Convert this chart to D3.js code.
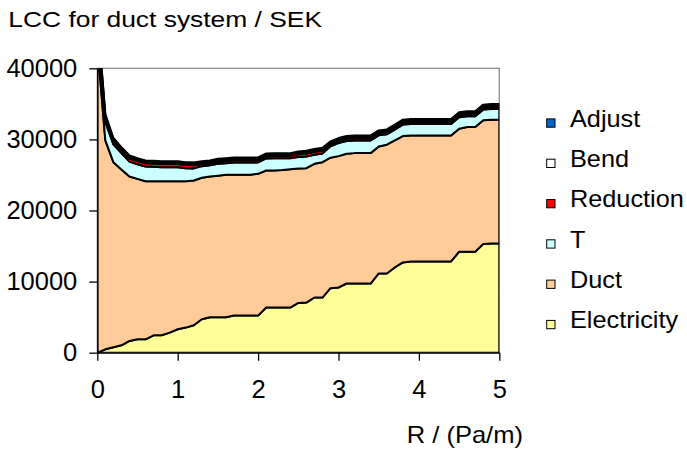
<!DOCTYPE html>
<html>
<head>
<meta charset="utf-8">
<script src="https://cdn.jsdelivr.net/npm/d3@7"></script>
<style>
body { margin: 0; background: #fff; }
text { font-family: "Liberation Sans", Arial, sans-serif; fill: #000; }
</style>
</head>
<body>
<div id="chart"></div>
<script>
// pressure drop R (Pa/m)
var rValues = [0, 0.1, 0.2, 0.3, 0.4, 0.5, 0.6, 0.7, 0.8, 0.9,
    1, 1.1, 1.2, 1.3, 1.4, 1.5, 1.6, 1.7, 1.8, 1.9,
    2, 2.1, 2.2, 2.3, 2.4, 2.5, 2.6, 2.7, 2.8, 2.9,
    3, 3.1, 3.2, 3.3, 3.4, 3.5, 3.6, 3.7, 3.8, 3.9,
    4, 4.1, 4.2, 4.3, 4.4, 4.5, 4.6, 4.7, 4.8, 4.9, 5];

// LCC parts, SEK
var electricity = [0, 475, 760, 1040, 1650, 1880, 1880, 2450, 2450, 2820,
    3300, 3530, 3860, 4710, 4990, 4990, 4990, 5220, 5220, 5220,
    5220, 6350, 6350, 6350, 6350, 7000, 7050, 7760, 7760, 9080,
    9170, 9730, 9730, 9730, 9730, 11140, 11140, 11990, 12700, 12830,
    12830, 12830, 12830, 12830, 12830, 14200, 14200, 14200, 15290, 15350, 15350];
var duct = [43500, 29390, 26040, 24730, 23130, 22570, 22240, 21670, 21670, 21300,
    20820, 20590, 20360, 19890, 19790, 19910, 20030, 19800, 19800, 19800,
    19940, 19280, 19280, 19350, 19460, 18900, 18900, 18810, 19040, 18340,
    18480, 18250, 18340, 18340, 18340, 17870, 18110, 17870, 17770, 17730,
    17730, 17730, 17730, 17730, 17730, 17310, 17540, 17540, 17390, 17430, 17430];
var tee = [2600, 2600, 2500, 2300, 2100, 2060, 2070, 2030, 1970, 1970,
    1970, 1830, 1700, 1640, 1570, 1670, 1640, 1740, 1740, 1740,
    1600, 1690, 1720, 1650, 1540, 1610, 1650, 1270, 1230, 1600,
    1840, 1790, 1790, 1790, 1790, 1560, 1460, 1510, 1610, 1600,
    1600, 1600, 1600, 1600, 1600, 1600, 1510, 1510, 1510, 1500, 1500];
var reduction = [700, 500, 450, 450, 450, 450, 450, 450, 450, 450,
    450, 450, 450, 300, 300, 300, 300, 300, 300, 300,
    300, 300, 300, 300, 300, 400, 400, 400, 400, 300,
    300, 300, 300, 300, 300, 300, 300, 300, 300, 300,
    300, 300, 300, 300, 300, 300, 300, 300, 300, 300, 300];
var bend = [600, 400, 300, 250, 250, 250, 250, 250, 250, 250,
    250, 250, 250, 250, 250, 250, 250, 250, 250, 250,
    250, 250, 250, 250, 250, 250, 250, 250, 250, 250,
    250, 250, 250, 250, 250, 250, 250, 250, 250, 250,
    250, 250, 250, 250, 250, 250, 250, 250, 250, 250, 250];
var adjust = [300, 200, 150, 150, 150, 150, 150, 150, 150, 150,
    150, 150, 150, 150, 150, 150, 150, 150, 150, 150,
    150, 150, 150, 150, 150, 150, 150, 150, 150, 150,
    150, 150, 150, 150, 150, 150, 150, 150, 150, 150,
    150, 150, 150, 150, 150, 150, 150, 150, 150, 150, 150];

var seriesNames = ['Electricity', 'Duct', 'T', 'Reduction', 'Bend', 'Adjust'];
var seriesColors = ['#ffff99', '#ffcc99', '#ccffff', '#ff0000', '#ffffff', '#0066cc'];
var yTicks = [0, 10000, 20000, 30000, 40000];
var xTicks = [0, 1, 2, 3, 4, 5];

var width = 687, height = 449;
var plotLeft = 97.3, plotRight = 499.3, plotTop = 68.3, plotBottom = 352.7;

var svg = d3.select('#chart')
    .append('svg')
    .attr('width', width)
    .attr('height', height);

var xScale = d3.scaleLinear().domain([0, 5]).range([plotLeft, plotRight]);
var yScale = d3.scaleLinear().domain([0, 40000]).range([plotBottom, plotTop]);

var rows = rValues.map(function (r, i) {
    return {
        r: r,
        Electricity: electricity[i],
        Duct: duct[i],
        T: tee[i],
        Reduction: reduction[i],
        Bend: bend[i],
        Adjust: adjust[i]
    };
});
var layers = d3.stack().keys(seriesNames)(rows);

svg.append('clipPath')
    .attr('id', 'plotClip')
    .append('rect')
    .attr('x', plotLeft)
    .attr('y', plotTop)
    .attr('width', plotRight - plotLeft)
    .attr('height', plotBottom - plotTop);

// plot frame (grey top/right)
svg.append('rect')
    .attr('x', plotLeft)
    .attr('y', plotTop)
    .attr('width', plotRight - plotLeft)
    .attr('height', plotBottom - plotTop)
    .attr('fill', 'none')
    .attr('stroke', '#8c8c8c')
    .attr('stroke-width', 1.3);

var area = d3.area()
    .x(function (d) { return xScale(d.data.r); })
    .y0(function (d) { return yScale(d[0]); })
    .y1(function (d) { return yScale(d[1]); });

svg.append('g')
    .attr('clip-path', 'url(#plotClip)')
    .selectAll('path')
    .data(layers)
    .enter().append('path')
    .attr('d', area)
    .attr('fill', function (d, i) { return seriesColors[i]; })
    .attr('stroke', '#000')
    .attr('stroke-width', 2)
    .attr('stroke-linejoin', 'round');

// axes
var yAxis = svg.append('g')
    .attr('transform', 'translate(' + plotLeft + ',0)')
    .call(d3.axisLeft(yScale).tickValues(yTicks).tickFormat(d3.format('d'))
        .tickSize(8).tickSizeOuter(0).tickPadding(12));
var xAxis = svg.append('g')
    .attr('transform', 'translate(0,' + plotBottom + ')')
    .call(d3.axisBottom(xScale).tickValues(xTicks).tickFormat(d3.format('d'))
        .tickSize(8).tickSizeOuter(0).tickPadding(19));

[yAxis, xAxis].forEach(function (ax) {
    ax.selectAll('path, line').attr('stroke', '#000').attr('stroke-width', 1.3);
    ax.selectAll('text')
        .style('font-family', '"Liberation Sans", Arial, sans-serif')
        .style('font-size', '25.5px')
        .attr('fill', '#000');
});

// title and axis label
svg.append('text')
    .attr('transform', 'translate(8.3,27.3) scale(1.2,1)')
    .style('font-size', '22px')
    .text('LCC for duct system / SEK');

svg.append('text')
    .attr('transform', 'translate(406.7,443.3) scale(1.11,1)')
    .style('font-size', '23px')
    .text('R / (Pa/m)');

// legend, top entry is last series
var legend = svg.append('g')
    .selectAll('g')
    .data(seriesNames.slice().reverse())
    .enter().append('g')
    .attr('transform', function (d, i) {
        return 'translate(546.7,' + (126.7 + i * 40.3) + ')';
    });
legend.append('rect')
    .attr('x', 0)
    .attr('y', -7.8)
    .attr('width', 8.3)
    .attr('height', 8.3)
    .attr('fill', function (d) { return seriesColors[seriesNames.indexOf(d)]; })
    .attr('stroke', '#000')
    .attr('stroke-width', 1);
legend.append('text')
    .attr('transform', 'translate(23.3,0) scale(1.1,1)')
    .style('font-size', '23px')
    .text(function (d) { return d; });
</script>
</body>
</html>
